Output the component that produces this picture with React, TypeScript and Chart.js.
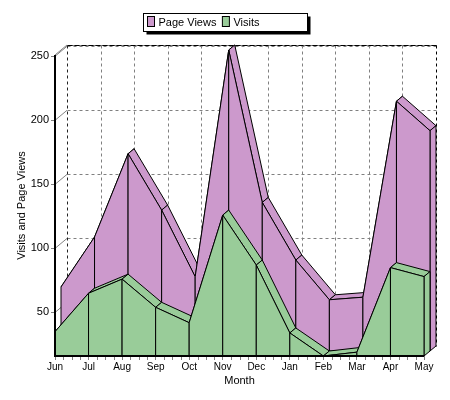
import { useEffect, useRef } from 'react';
import { Chart, registerables } from 'chart.js';

Chart.register(...registerables);

const months = ['Jun', 'Jul', 'Aug', 'Sep', 'Oct', 'Nov', 'Dec', 'Jan', 'Feb', 'Mar', 'Apr', 'May'];
const pageViews = [66, 105, 170, 126, 74, 251, 132, 87, 56, 58, 211, 188];
const visits = [35, 65, 76, 54, 42, 126, 87, 34, 16, 19, 85, 78];
const yTickValues = [50, 100, 150, 200, 250];
const seriesNames = ['Page Views', 'Visits'];
const seriesColors = ['#cc99cc', '#99cc99'];
const seriesLayers = [1, 0];

const yMin = Math.min(...visits, ...pageViews);
const yMax = Math.max(...visits, ...pageViews);

const FONT = '"Liberation Sans", Arial, sans-serif';
const GRID = '#808080';
const DX = 6;
const DY = 5;
const LAYERS = 2;

function poly(ctx: CanvasRenderingContext2D, pts: number[][], fill: string) {
  ctx.beginPath();
  ctx.moveTo(pts[0][0], pts[0][1]);
  for (let i = 1; i < pts.length; i++) ctx.lineTo(pts[i][0], pts[i][1]);
  ctx.closePath();
  ctx.fillStyle = fill;
  ctx.fill();
  ctx.stroke();
}

function line(ctx: CanvasRenderingContext2D, x1: number, y1: number, x2: number, y2: number) {
  ctx.beginPath();
  ctx.moveTo(x1, y1);
  ctx.lineTo(x2, y2);
  ctx.stroke();
}

const area3d = {
  id: 'area3d',
  beforeDatasetsDraw(chart: any) {
    const { ctx, chartArea: a, scales } = chart;
    const xs = scales.x;
    const ys = scales.y;
    const n = months.length;
    const dX = DX * LAYERS;
    const dY = DY * LAYERS;
    const r = (v: number) => Math.round(v) + 0.5;
    ctx.save();
    ctx.lineWidth = 1;

    // back wall grid
    ctx.strokeStyle = GRID;
    ctx.setLineDash([3, 3]);
    yTickValues.forEach((v) => {
      const py = r(ys.getPixelForValue(v) - dY);
      line(ctx, r(a.left + dX), py, r(a.right + dX), py);
    });
    for (let i = 1; i < n - 1; i++) {
      const px = r(xs.getPixelForValue(i) + dX);
      line(ctx, px, r(a.top - dY), px, r(a.bottom - dY));
    }
    // left edge of back wall
    ctx.strokeStyle = '#222';
    line(ctx, r(a.left + dX), r(a.top - dY), r(a.left + dX), r(a.bottom - dY));
    // top edge
    ctx.setLineDash([]);
    ctx.strokeStyle = GRID;
    line(ctx, r(a.left + dX), r(a.top - dY), r(a.right + dX), r(a.top - dY));
    ctx.setLineDash([5, 2]);
    ctx.strokeStyle = '#000';
    line(ctx, r(a.left + dX), r(a.top - dY), r(a.right + dX), r(a.top - dY));
    // left wall diagonals
    ctx.setLineDash([]);
    ctx.strokeStyle = GRID;
    [...yTickValues, yMax].forEach((v) => {
      const py = ys.getPixelForValue(v);
      line(ctx, a.left, py, a.left + dX, py - dY);
    });

    // series, back to front
    ctx.strokeStyle = '#000';
    ctx.lineJoin = 'miter';
    const order = [0, 1];
    order.forEach((di) => {
      const meta = chart.getDatasetMeta(di);
      const layer = seriesLayers[di];
      const ox = DX * layer;
      const oy = -DY * layer;
      const color = seriesColors[di];
      const pts = meta.data.map((p: any) => [p.x + ox, p.y + oy]);
      const base = ys.getPixelForValue(yMin) + oy;
      // top bands
      for (let i = 0; i < pts.length - 1; i++) {
        const p = pts[i];
        const q = pts[i + 1];
        poly(ctx, [p, q, [q[0] + DX, q[1] - DY], [p[0] + DX, p[1] - DY]], color);
      }
      // right end face
      const L = pts[pts.length - 1];
      poly(ctx, [L, [L[0], base], [L[0] + DX, base - DY], [L[0] + DX, L[1] - DY]], color);
      // front faces
      for (let i = 0; i < pts.length - 1; i++) {
        const p = pts[i];
        const q = pts[i + 1];
        poly(ctx, [[p[0], base], p, q, [q[0], base]], color);
      }
    });

    // right edge of back wall
    ctx.setLineDash([3, 3]);
    ctx.strokeStyle = '#000';
    line(ctx, r(a.right + dX), r(a.top - dY), r(a.right + dX), r(a.bottom - dY));
    ctx.setLineDash([]);

    // minor x ticks
    ctx.strokeStyle = GRID;
    for (let i = 0; i < n - 1; i++) {
      const p0 = xs.getPixelForValue(i);
      const p1 = xs.getPixelForValue(i + 1);
      for (let k = 1; k < 4; k++) {
        const px = r(p0 + ((p1 - p0) * k) / 4);
        line(ctx, px, a.bottom, px, a.bottom + 4);
      }
    }

    // axis lines
    ctx.strokeStyle = '#000';
    ctx.lineWidth = 2;
    line(ctx, a.left, a.top, a.left, a.bottom + 1);
    line(ctx, a.left - 1, a.bottom, a.right, a.bottom);
    ctx.restore();
  },
  afterDraw(chart: any) {
    const { ctx } = chart;
    ctx.save();
    const w = 164;
    const h = 18;
    const bx = Math.round(chart.width / 2 - w / 2) + 0.5;
    const by = 13.5;
    ctx.fillStyle = '#000';
    ctx.fillRect(bx + 3, by + 3, w, h);
    ctx.fillStyle = '#fff';
    ctx.fillRect(bx, by, w, h);
    ctx.strokeStyle = '#000';
    ctx.lineWidth = 1;
    ctx.strokeRect(bx, by, w, h);
    ctx.font = `11px ${FONT}`;
    ctx.textBaseline = 'middle';
    ctx.textAlign = 'left';
    let x = bx + 4;
    seriesNames.forEach((name, i) => {
      ctx.fillStyle = seriesColors[i];
      ctx.fillRect(x, by + 3, 7, 10);
      ctx.strokeRect(x, by + 3, 7, 10);
      ctx.fillStyle = '#000';
      ctx.fillText(name, x + 11, by + h / 2 + 0.5);
      x += 11 + ctx.measureText(name).width + 6;
    });
    ctx.restore();
  },
};

export default function App() {
  const ref = useRef<HTMLCanvasElement>(null);
  useEffect(() => {
    document.body.style.margin = '0';
    const canvas = ref.current!;
    Chart.defaults.color = '#000';
    const chart = new Chart(canvas, {
      type: 'line',
      data: {
        labels: months,
        datasets: [
          { label: seriesNames[0], data: pageViews, pointRadius: 0, showLine: false, borderWidth: 0, backgroundColor: seriesColors[0] },
          { label: seriesNames[1], data: visits, pointRadius: 0, showLine: false, borderWidth: 0, backgroundColor: seriesColors[1] },
        ],
      },
      options: {
        responsive: false,
        animation: false,
        events: [],
        layout: { padding: { top: 55, right: 26, left: 0, bottom: 0 } },
        plugins: { legend: { display: false }, tooltip: { enabled: false }, title: { display: false } },
        scales: {
          x: {
            type: 'category',
            offset: false,
            border: { display: false },
            grid: { display: true, drawOnChartArea: false, drawTicks: true, tickLength: 4, color: GRID, offset: false },
            ticks: { color: '#000', font: { family: FONT, size: 10 }, padding: 1, maxRotation: 0, autoSkip: false },
            title: { display: true, text: 'Month', color: '#000', font: { family: FONT, size: 11, lineHeight: 1.2 }, padding: { top: 0, bottom: 12 } },
            afterFit: (s: any) => { s.height = 44; },
          },
          y: {
            type: 'linear',
            min: yMin,
            max: yMax,
            border: { display: false },
            grid: { display: true, drawOnChartArea: false, drawTicks: true, tickLength: 4, color: GRID },
            ticks: { color: '#000', font: { family: FONT, size: 11 }, padding: 2 },
            afterBuildTicks: (s: any) => { s.ticks = yTickValues.map((v) => ({ value: v })); },
            title: { display: true, text: 'Visits and Page Views', color: '#000', font: { family: FONT, size: 11, lineHeight: 1.2 }, padding: { top: 15, bottom: 0 } },
            afterFit: (s: any) => { s.width = 55; },
          },
        },
      },
      plugins: [area3d],
    });
    return () => chart.destroy();
  }, []);
  return (
    <div style={{ position: 'absolute', left: 0, top: 0, width: 450, height: 400 }}>
      <canvas ref={ref} width={450} height={400} style={{ display: 'block', width: 450, height: 400 }} />
    </div>
  );
}
